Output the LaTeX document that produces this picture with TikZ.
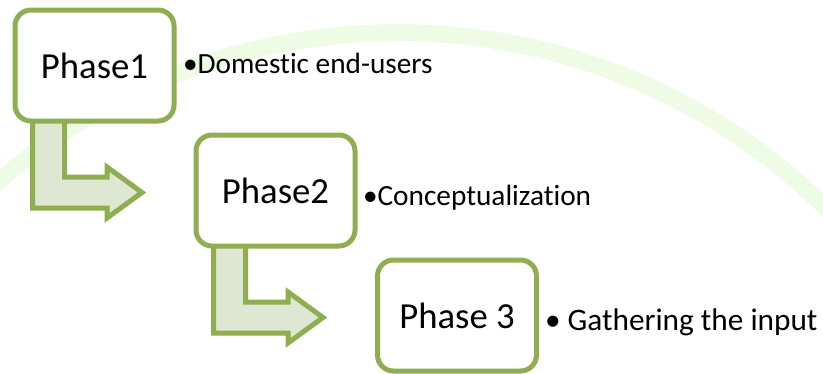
\documentclass[tikz,border=0pt]{standalone}
\usepackage{fontspec}
\setmainfont[Ligatures={NoCommon,NoRare}]{Carlito}
\usetikzlibrary{calc}

\definecolor{phaseline}{RGB}{143,173,81}
\definecolor{arrowfill}{RGB}{222,231,209}
\definecolor{swoosh}{RGB}{238,252,230}

\tikzset{
  phasebox/.style={draw=phaseline, line width=5pt, fill=white, rounded corners=16pt,
    minimum width=159pt, minimum height=111pt, inner sep=0pt, outer sep=0pt,
    font=\fontsize{36.7}{40}\selectfont},
  bendarrow/.style={draw=phaseline, line width=5pt, fill=arrowfill, miter limit=10},
  bullettext/.style={anchor=base west, inner sep=0pt, outer sep=0pt},
}

\begin{document}
\begin{tikzpicture}[x=1pt, y=-1pt]
  % canvas
  \fill[white] (0,0) rectangle (823,373);
  \useasboundingbox (0,0) rectangle (823,373);

  % faint background swoosh
  \begin{scope}
    \clip (0,0) rectangle (823,373);
    \draw[swoosh, line width=17pt] (397.8,643.5) circle[radius=610.8];
  \end{scope}

  % phase boxes (positions only; drawn after the arrows below)
  \path (94.5,65.5) node[phasebox, draw=none, fill=none, text opacity=0] (q1) {Phase1};
  \path (275.5,190.5) node[phasebox, draw=none, fill=none, text opacity=0] (q2) {Phase2};

  % bent arrows leaving the bottom of a box towards the next box
  \foreach \b in {q1,q2}{
    \begin{scope}[shift={(\b.south west)}]
      \draw[bendarrow] (17.5,-8) -- (49.5,-8) -- (49.5,56) -- (92,56) -- (92,46)
        -- (127,71.5) -- (92,97) -- (92,87) -- (17.5,87) -- cycle;
    \end{scope}
  }

  % boxes
  \node[phasebox] (p1) at (94.5,65.5) {Phase1};
  \node[phasebox] (p2) at (275.5,190.5) {Phase2};
  \node[phasebox] (p3) at (457,315.5) {Phase 3};

  % bullet captions
  \node[bullettext, font=\fontsize{29.3}{32}\selectfont] (t1) at (183,73) {•Domestic end-users};
  \node[bullettext, font=\fontsize{29.3}{32}\selectfont] (t2) at (363,205) {•Conceptualization};
  \node[bullettext, font=\fontsize{31.3}{34}\selectfont] (t3) at (545,330) {• Gathering the input};
\end{tikzpicture}
\end{document}
